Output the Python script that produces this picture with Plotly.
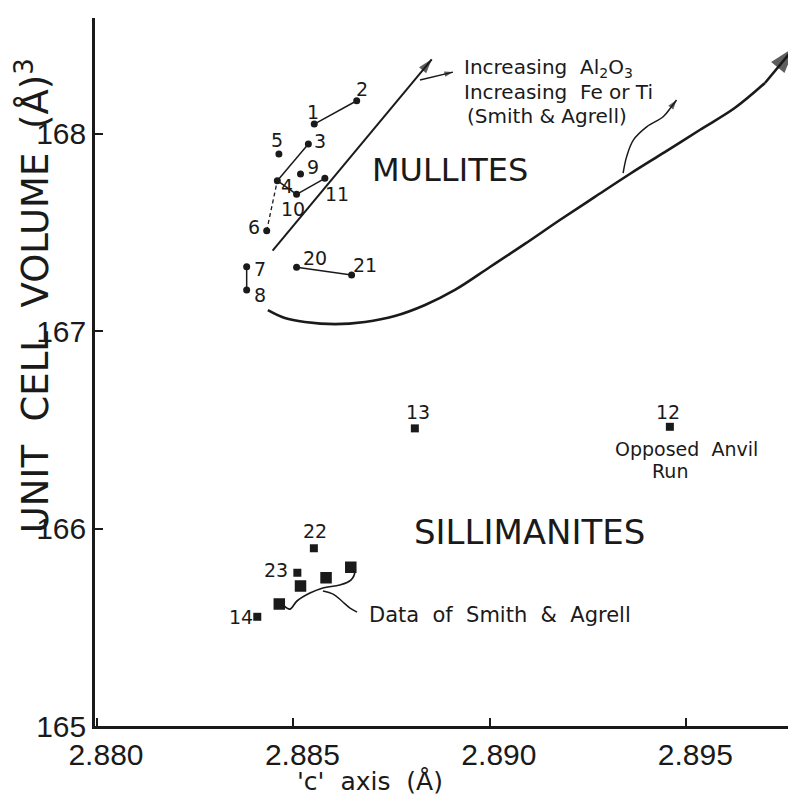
import plotly.graph_objects as go

# ---------------- data ----------------
mullite_ids = ["1", "2", "3", "4", "5", "6", "7", "8", "9", "10", "11", "20", "21"]
mullite_c = [2.88553, 2.88661, 2.88538, 2.88459, 2.88463, 2.88432, 2.88381, 2.88381,
             2.88518, 2.88508, 2.88580, 2.88508, 2.88648]
mullite_v = [168.048, 168.166, 167.947, 167.761, 167.896, 167.508, 167.326, 167.208,
             167.795, 167.692, 167.773, 167.323, 167.284]

solid_links = [("1", "2"), ("3", "4"), ("4", "10"), ("10", "11"), ("7", "8"), ("20", "21")]
dashed_links = [("6", "4")]

sill_ids = ["12", "13", "22", "23", "14"]
sill_c = [2.89458, 2.88809, 2.88552, 2.88510, 2.88408]
sill_v = [166.515, 166.507, 165.900, 165.776, 165.553]

sa_c = [2.88518, 2.88583, 2.88646, 2.88464]     # data of Smith & Agrell
sa_v = [165.709, 165.751, 165.804, 165.618]

# trend curve (mullites)
trend_c = [2.88435, 2.88478, 2.88529, 2.88606, 2.88682, 2.88758, 2.88835, 2.88911, 2.89000,
           2.89089, 2.89178, 2.89267, 2.89356, 2.89445, 2.89534, 2.89623, 2.89700, 2.89776]
trend_v = [167.106, 167.066, 167.046, 167.035, 167.046, 167.076, 167.132, 167.208, 167.324,
           167.441, 167.562, 167.679, 167.795, 167.906, 168.018, 168.129, 168.256, 168.438]

# straight trend line (Al2O3)
al_c = [2.88447, 2.88852]
al_v = [167.407, 168.376]

# leader curves
fe_c = [2.89339, 2.89348, 2.89365, 2.89399, 2.89441, 2.89462, 2.89475]
fe_v = [167.799, 167.883, 167.967, 168.034, 168.085, 168.136, 168.170]
al_lead_c = [2.88822, 2.88906]
al_lead_v = [168.271, 168.311]

sa_curve_c = [2.88476, 2.88491, 2.88509, 2.88542, 2.88575, 2.88618, 2.88646, 2.88656, 2.88649]
sa_curve_v = [165.608, 165.592, 165.633, 165.673, 165.699, 165.714, 165.739, 165.780, 165.810]
sa_lead_c = [2.88575, 2.88601, 2.88623, 2.88644, 2.88662]
sa_lead_v = [165.684, 165.668, 165.633, 165.597, 165.577]

x_ticks = [2.880, 2.885, 2.890, 2.895]
x_tick_labels = ["2.880", "2.885", "2.890", "2.895"]
y_ticks = [165, 166, 167, 168]
y_tick_labels = ["165", "166", "167", "168"]

# label offsets (px) for point numbers
label_offsets = {
    "1": (-1, 12), "2": (5, 12), "3": (12, 3), "5": (-2, 14), "9": (12, 7),
    "4": (10, -5), "11": (12, -16), "10": (-4, -15), "6": (-13, 4), "7": (13, -2),
    "8": (13, -5), "20": (18, 9), "21": (13, 10), "13": (3, 16), "12": (-2, 15),
    "22": (1, 17), "23": (-21, 3), "14": (-16, 0),
}

INK = "#1a1a1a"
TXT = "DejaVu Sans"

fig = go.Figure()
idx = {k: i for i, k in enumerate(mullite_ids)}


def line(xs, ys, width, dash=None, spline=False):
    fig.add_trace(go.Scatter(x=xs, y=ys, mode="lines",
                             line=dict(color=INK, width=width, dash=dash,
                                       shape="spline" if spline else "linear",
                                       smoothing=1.0 if spline else None),
                             showlegend=False, hoverinfo="skip"))


def arrowhead(xs, ys, size):
    # last two points of a path; draws an arrow marker at the final point
    fig.add_trace(go.Scatter(x=xs[-2:], y=ys[-2:], mode="markers",
                             marker=dict(symbol="arrow", size=[0, size], color=INK,
                                         angleref="previous", line=dict(width=0)),
                             showlegend=False, hoverinfo="skip"))


for a, b in solid_links:
    line([mullite_c[idx[a]], mullite_c[idx[b]]], [mullite_v[idx[a]], mullite_v[idx[b]]], 1.5)
for a, b in dashed_links:
    line([mullite_c[idx[a]], mullite_c[idx[b]]], [mullite_v[idx[a]], mullite_v[idx[b]]], 1.3,
         dash="4px,3px")

line(trend_c[:-1], trend_v[:-1], 2.6, spline=True)
line(trend_c[-2:], trend_v[-2:], 2.6)
arrowhead(trend_c, trend_v, 28)

line(al_c, al_v, 2.0)
arrowhead(al_c, al_v, 15)

line(fe_c, fe_v, 1.5, spline=True)
arrowhead(fe_c, fe_v, 10)

line(al_lead_c, al_lead_v, 1.5)
arrowhead(al_lead_c, al_lead_v, 9)

line(sa_curve_c, sa_curve_v, 1.7, spline=True)
line(sa_lead_c, sa_lead_v, 1.5, spline=True)

# markers
fig.add_trace(go.Scatter(x=mullite_c, y=mullite_v, mode="markers",
                         marker=dict(symbol="circle", size=7, color=INK),
                         showlegend=False, hoverinfo="skip"))
fig.add_trace(go.Scatter(x=sill_c, y=sill_v, mode="markers",
                         marker=dict(symbol="square", size=8, color=INK),
                         showlegend=False, hoverinfo="skip"))
fig.add_trace(go.Scatter(x=sa_c, y=sa_v, mode="markers",
                         marker=dict(symbol="square", size=10, color=INK,
                                     line=dict(color=INK, width=1.5)),
                         showlegend=False, hoverinfo="skip"))


def num_label(txt, x, y):
    dx, dy = label_offsets[txt]
    fig.add_annotation(x=x, y=y, xref="x", yref="y", text=txt, showarrow=False,
                       xshift=dx, yshift=dy, font=dict(family=TXT, size=19, color=INK))


for k, c, v in zip(mullite_ids, mullite_c, mullite_v):
    num_label(k, c, v)
for k, c, v in zip(sill_ids, sill_c, sill_v):
    num_label(k, c, v)


def text(t, x, y, size, xanchor="center"):
    fig.add_annotation(x=x, y=y, xref="x", yref="y", text=t, showarrow=False,
                       xanchor=xanchor, yanchor="middle",
                       font=dict(family=TXT, size=size, color=INK))


text("MULLITES", 2.88898, 167.815, 32)
text("SILLIMANITES", 2.89102, 165.984, 34)
text("Opposed  Anvil", 2.89501, 166.404, 19)
text("Run", 2.89458, 166.290, 19)
text("Data  of  Smith  &  Agrell", 2.88686, 165.562, 21, "left")
text("Increasing  Al<sub>2</sub>O<sub>3</sub>", 2.88928, 168.333, 20, "left")
text("Increasing  Fe or Ti", 2.88928, 168.210, 20, "left")
text("(Smith & Agrell)", 2.88936, 168.088, 20, "left")

# axis titles
fig.add_annotation(xref="paper", yref="paper", x=-0.0884, y=0.607,
                   text="UNIT  CELL  VOLUME  (Å)<sup>3</sup>",
                   textangle=-90, showarrow=False, xanchor="center", yanchor="middle",
                   font=dict(family=TXT, size=37, color=INK))
fig.add_annotation(xref="paper", yref="paper", x=0.392, y=-0.078, text="'c'  axis  (Å)",
                   showarrow=False, xanchor="center", yanchor="middle",
                   font=dict(family=TXT, size=25, color=INK))

# the page body adds an 8px margin; the figure is sized so the plot lands where the reference has it
fig.update_layout(
    width=788, height=789, autosize=False,
    margin=dict(l=87, r=0, t=10, b=71),
    paper_bgcolor="white", plot_bgcolor="white",
    showlegend=False,
    xaxis=dict(range=[2.87995, 2.89779], tickvals=x_ticks, ticktext=x_tick_labels,
               showgrid=False, zeroline=False, showline=True, linecolor=INK, linewidth=2.5,
               ticks="inside", ticklen=8, tickwidth=2, tickcolor=INK, ticklabelshift=9,
               tickfont=dict(family="Liberation Sans", size=30, color=INK)),
    yaxis=dict(range=[165, 168.585], tickvals=y_ticks, ticktext=y_tick_labels,
               showgrid=False, zeroline=False, showline=True, linecolor=INK, linewidth=2.5,
               ticks="inside", ticklen=8, tickwidth=2, tickcolor=INK,
               tickfont=dict(family="Liberation Sans", size=30, color=INK)),
)

fig.write_html("out.html")
